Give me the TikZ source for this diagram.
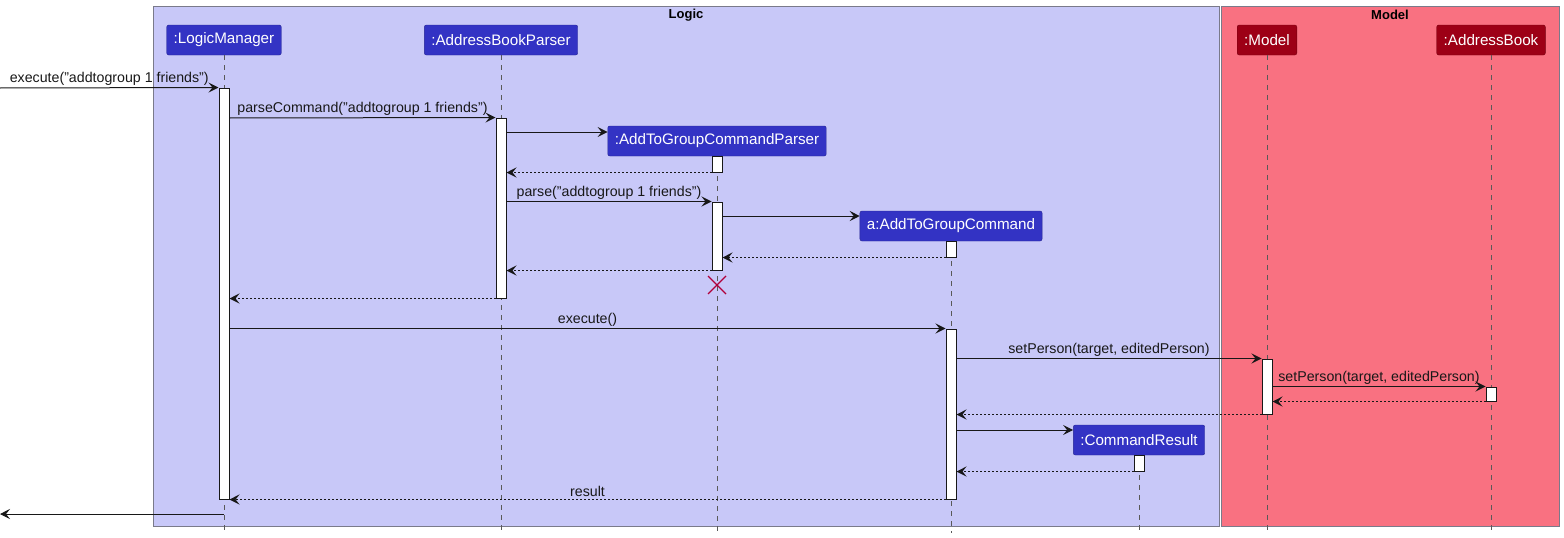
\documentclass[tikz,border=0pt]{standalone}
\usepackage{fontspec}
\setmainfont{Liberation Sans}
\usetikzlibrary{arrows.meta}
\definecolor{logicbg}{HTML}{C8C8F8}
\definecolor{modelbg}{HTML}{F97181}
\definecolor{logicbox}{HTML}{3333C4}
\definecolor{modelbox}{HTML}{9D0016}
\definecolor{framegray}{HTML}{7A7A8A}
\definecolor{killred}{HTML}{B0003A}
\definecolor{ink}{HTML}{181818}
\begin{document}
\begin{tikzpicture}[x=1pt, y=-1pt,
  msg/.style={-{Stealth[length=10pt,width=10pt,inset=4pt]}, line width=1pt, draw=ink},
  ret/.style={msg, dash pattern=on 2pt off 2pt},
  life/.style={draw=black!65, dash pattern=on 5pt off 5pt, line width=0.7pt},
  lbox/.style={rectangle, rounded corners=2pt, fill=logicbox, draw=logicbox!75!black, text=white, minimum height=30pt, inner xsep=7pt, font=\fontsize{15.2}{17}\selectfont},
  mbox/.style={lbox, fill=modelbox, draw=modelbox!75!black},
  bar/.style={rectangle, draw=ink, fill=white, line width=1pt, minimum width=10pt, inner sep=0pt},
  lbl/.style={font=\fontsize{14.2}{16}\selectfont, inner sep=2pt, text=ink}]

\useasboundingbox (0,0) rectangle (1564,538);

% frames
\fill[logicbg, draw=framegray, line width=0.9pt] (153,6) rectangle (1219,526);
\fill[modelbg, draw=framegray, line width=0.9pt] (1221,6) rectangle (1559,526);
\node[font=\bfseries\fontsize{13}{15}\selectfont] (logic) at (686,15) {Logic};
\node[font=\bfseries\fontsize{13}{15}\selectfont] (model) at (1390,15) {Model};

% participants
\node[lbox] (LM) at (224,40) {:LogicManager};
\node[lbox] (ABP) at (501,40) {:AddressBookParser};
\node[lbox] (P) at (717,141) {:AddToGroupCommandParser};
\node[lbox] (C) at (951,226) {a:AddToGroupCommand};
\node[lbox] (CR) at (1139,440) {:CommandResult};
\node[mbox] (M) at (1267,40) {:Model};
\node[mbox] (AB) at (1491,40) {:AddressBook};

% lifelines
\foreach \p in {LM,ABP,P,C,CR,M,AB}
  \draw[life] (\p.south) -- (\p |- 0,533);

% activations
\node[bar, minimum height=411pt] (LMa) at (224,293.5) {};
\node[bar, minimum height=180pt] (ABPa) at (501,208) {};
\node[bar, minimum height=16pt] (Pa) at (717,164) {};
\node[bar, minimum height=68pt] (Pb) at (717,236) {};
\node[bar, minimum height=16pt] (Ca) at (951,249) {};
\node[bar, minimum height=170pt] (Cb) at (951,414) {};
\node[bar, minimum height=55pt] (Ma) at (1267,386.5) {};
\node[bar, minimum height=14pt] (ABa) at (1491,394) {};
\node[bar, minimum height=16pt] (CRa) at (1139,463) {};

\coordinate (in) at (0,88);
\coordinate (out) at (0,514);

% messages
\draw[msg] (in) -- node[lbl, above] {execute("addtogroup 1 friends")} (LMa.north west);
\draw[msg] (LMa.east |- 0,118) -- node[lbl, above] {parseCommand("addtogroup 1 friends")} (ABPa.north west);
\draw[msg] (ABPa.east |- 0,132) -- (P.west |- 0,132);
\draw[ret] (Pa.south west) -- (ABPa.east |- Pa.south);
\draw[msg] (ABPa.east |- Pb.north) -- node[lbl, above] {parse("addtogroup 1 friends")} (Pb.north west);
\draw[msg] (Pb.east |- 0,216) -- (C.west |- 0,216);
\draw[ret] (Ca.south west) -- (Pb.east |- Ca.south);
\draw[ret] (Pb.south west) -- (ABPa.east |- Pb.south);
\draw[killred, line width=1.1pt] (708,276) -- (726,294) (726,276) -- (708,294);
\draw[ret] (ABPa.south west) -- (LMa.east |- ABPa.south);
\draw[msg] (LMa.east |- Cb.north) -- node[lbl, above] {execute()} (Cb.north west);
\draw[msg] (Cb.east |- Ma.north) -- node[lbl, above] {setPerson(target, editedPerson)} (Ma.north west);
\draw[msg] (Ma.east |- ABa.north) -- node[lbl, above] {setPerson(target, editedPerson)} (ABa.north west);
\draw[ret] (ABa.south west) -- (Ma.east |- ABa.south);
\draw[ret] (Ma.south west) -- (Cb.east |- Ma.south);
\draw[msg] (Cb.east |- 0,430) -- (CR.west |- 0,430);
\draw[ret] (CRa.south west) -- (Cb.east |- CRa.south);
\draw[ret] (Cb.south west) -- node[lbl, above] {result} (LMa.south east);
\draw[msg] (LM |- out) -- (out);

\end{tikzpicture}
\end{document}
